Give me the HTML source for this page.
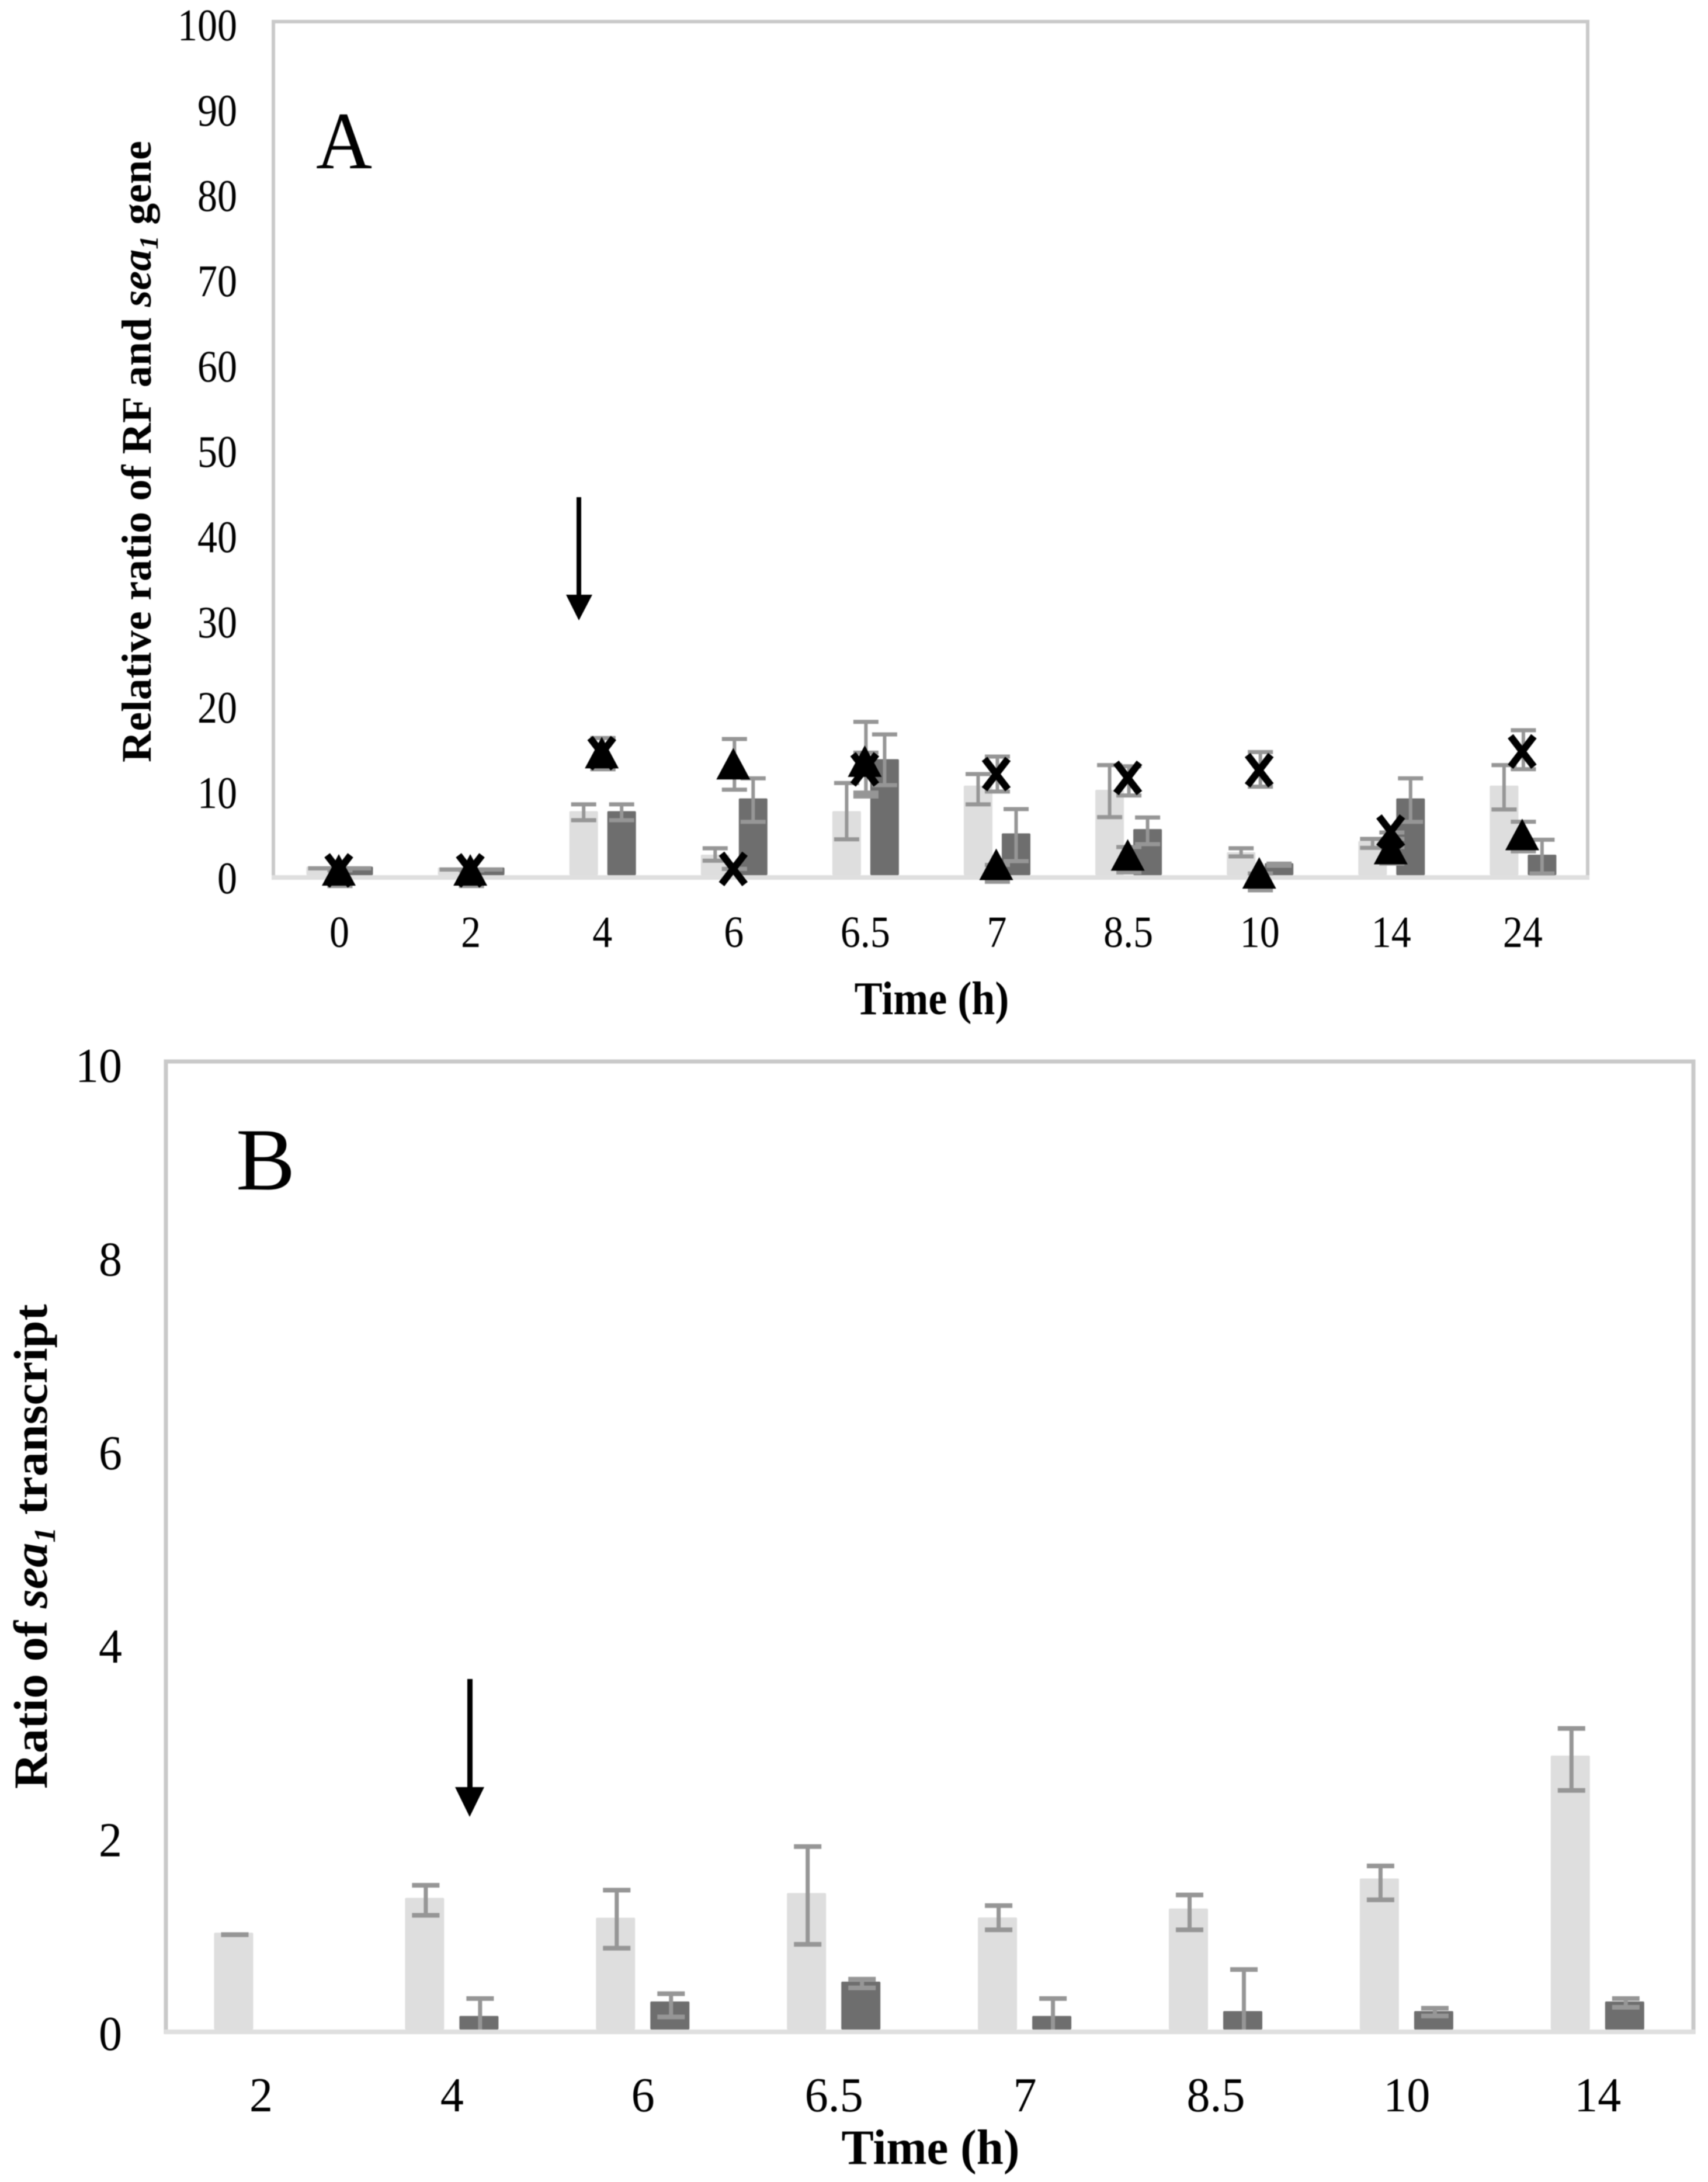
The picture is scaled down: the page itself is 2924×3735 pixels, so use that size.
<!DOCTYPE html>
<html lang="en">
<head>
<meta charset="utf-8">
<title>Relative ratio of RF and sea1 gene and ratio of sea1 transcript</title>
<style>
html,body{margin:0;padding:0;background:#fff;}
svg{display:block;filter:blur(0.8px);}
text{font-family:"Liberation Serif","Times New Roman",serif;fill:#000;}
</style>
</head>
<body>
<svg id="figure" xmlns="http://www.w3.org/2000/svg" width="2924" height="3735" viewBox="0 0 2924 3735">
  <rect x="0" y="0" width="2924" height="3735" fill="#ffffff"/>
  <g id="panelA"></g>
  <g id="panelB"></g>
  <text font-size="133" transform="translate(541,288) scale(1,1.05)">A</text>
  <text font-size="152" transform="translate(404,2036)">B</text>
  <text font-size="72" font-weight="bold" text-anchor="middle" transform="translate(1595,1736) scale(1,1.12)">Time (h)</text>
  <text font-size="83" font-weight="bold" text-anchor="middle" transform="translate(1593,3704) scale(1,1.02)">Time (h)</text>
  <text font-size="72" font-weight="bold" transform="translate(258,1305) rotate(-90) scale(1.027,1)">Relative ratio of RF and <tspan font-style="italic">sea</tspan><tspan font-style="italic" font-size="46" dy="12">1</tspan><tspan dy="-12"> gene</tspan></text>
  <text font-size="82" font-weight="bold" transform="translate(80,3062) rotate(-90) scale(1.028,1)">Ratio of <tspan font-style="italic">sea</tspan><tspan font-style="italic" font-size="52" dy="14">1</tspan><tspan dy="-14"> transcript</tspan></text>
  <g>
    <rect x="987" y="851" width="8" height="170" fill="#000"/>
    <polygon points="969,1018 1014,1018 991,1062" fill="#000"/>
  </g>
  <g>
    <rect x="800" y="2874" width="9" height="190" fill="#000"/>
    <polygon points="779,3059 829,3059 804,3110" fill="#000"/>
  </g>
</svg>
<script>
// Panel A data
const categoriesA = ['0','2','4','6','6.5','7','8.5','10','14','24'];
const yTicksA = [0,10,20,30,40,50,60,70,80,90,100];
const lightA = [1.0,0.9,7.5,2.4,7.5,10.5,10.0,2.7,4.0,10.5];
const lightHiA = [0.8,0.66,8.3,3.15,10.8,11.85,12.9,3.15,4.25,12.9];
const lightLoA = [0.8,0.66,6.44,1.69,4.2,8.3,6.8,2.2,3.2,7.7];
const darkA = [1.0,0.9,7.5,9.0,13.6,4.9,5.4,1.4,9.0,2.4];
const darkHiA = [0.8,0.66,8.3,11.35,16.5,7.74,6.76,1.35,11.35,4.15];
const darkLoA = [0.8,0.66,6.44,6.25,10.55,1.64,3.63,1.1,6.25,0.2];
const crossA = [0.55,0.55,14.3,0.73,12.4,11.85,11.4,12.3,5.1,14.5];
const crossHiA = [0.55,0.55,16.07,0.73,14.36,13.9,12.76,14.43,5.0,16.99];
const crossLoA = [0.55,0.55,12.42,0.73,9.68,9.8,9.34,10.37,4.25,12.42];
const triangleA = [0.55,0.55,14.3,13.0,13.3,1.2,2.3,0.2,3.05,4.7];
const triangleHiA = [0.55,0.55,16.07,15.96,17.97,1.2,3.29,0.2,3.29,6.26];
const triangleLoA = [-1.28,-1.28,12.42,10.02,9.22,-0.78,0.32,-1.78,1.35,2.79];

// Panel B data
const categoriesB = ['2','4','6','6.5','7','8.5','10','14'];
const yTicksB = [0,2,4,6,8,10];
const lightB = [1.0,1.36,1.155,1.41,1.157,1.25,1.56,2.83];
const lightHiB = [0.98,1.49,1.44,1.89,1.28,1.39,1.69,3.11];
const lightLoB = [0.98,1.18,0.84,0.88,1.03,1.03,1.34,2.47];
const darkB = [0,0.14,0.29,0.495,0.14,0.19,0.19,0.29];
const darkHiB = [0,0.32,0.37,0.52,0.32,0.62,0.22,0.32];
const darkLoB = [0,0,0.13,0.43,0,0,0.14,0.23];

const NS = 'http://www.w3.org/2000/svg';
const LIGHT = '#dedede', DARK = '#6e6e6e', ERR = '#969696', FRAME = '#c9c9c9', BASE = '#dfdfdf';

const xA = i => 582 + 225.1 * i;
const yA = v => 1498 - 14.6 * v;
const xB = i => 447 + 326.9 * i;
const yB = v => 3474 - 165.7 * v;

function node(tag, parent) {
  const el = document.createElementNS(NS, tag);
  parent.appendChild(el);
  return el;
}
function setAll(el, props) {
  Object.keys(props).forEach(k => el.setAttribute(k, props[k]));
  return el;
}
function drawFrame(parent, x, y, w, h, sw) {
  const frame = setAll(node('rect', parent), {x:x, y:y, width:w, height:h, fill:'none', stroke:FRAME, 'stroke-width':sw});
  
  
  const base = setAll(node('line', parent), {x1:x-3, x2:x+w+3, y1:y+h, y2:y+h, stroke:BASE, 'stroke-width':8});
  
  
}
function drawBar(parent, cx, top, bottom, width, fill) {
  const bar = setAll(node('rect', parent), {x:cx-width/2, y:top, width:width, height:Math.max(0,bottom-top), fill:fill, rx:2});
  
  
}
function drawError(parent, cx, yHi, yLo, capW, capH, stem, showLowerCap) {
  const g = node('g', parent);
  
  
  setAll(node('rect', g), {x:cx-stem/2, y:yHi, width:stem, height:Math.max(0,yLo-yHi), fill:ERR});
  setAll(node('rect', g), {x:cx-capW/2, y:yHi-capH/2, width:capW, height:capH, fill:ERR});
  if (showLowerCap) {
    setAll(node('rect', g), {x:cx-capW/2, y:yLo-capH/2, width:capW, height:capH, fill:ERR});
  }
}
function drawCross(parent, cx, cy) {
  const mark = setAll(node('path', parent), {
    d:'M'+(cx-20)+' '+(cy-26)+'L'+(cx+20)+' '+(cy+26)+'M'+(cx+20)+' '+(cy-26)+'L'+(cx-20)+' '+(cy+26),
    stroke:'#000', 'stroke-width':12, fill:'none'
  });
  
  
}
function drawTriangle(parent, cx, cy) {
  const mark = setAll(node('polygon', parent), {
    points:cx+','+(cy-28)+' '+(cx+29)+','+(cy+26)+' '+(cx-29)+','+(cy+26),
    fill:'#000'
  });
  
  
}
function tickLabel(parent, label, x, y, size, sy, anchor) {
  const t = setAll(node('text', parent), {'font-size':size, 'text-anchor':anchor, transform:'translate('+x+','+y+') scale(1,'+sy+')'});
  t.textContent = label;
  return t;
}

// Panel A
const panelA = document.getElementById('panelA');
drawFrame(panelA, 468, 37, 2250, 1465, 6);
yTicksA.forEach(v => {
  const t = tickLabel(panelA, String(v), 406, yA(v) + 31, 68, 1.14, 'end');
  
  
});
categoriesA.forEach((c, i) => {
  const t = tickLabel(panelA, c, xA(i) - 1, 1621, 68, 1.12, 'middle');
  
  
  drawBar(panelA, xA(i) - 33, yA(lightA[i]), yA(0), 49, LIGHT);
  drawBar(panelA, xA(i) + 32, yA(darkA[i]), yA(0), 49, DARK);
});
categoriesA.forEach((c, i) => {
  drawError(panelA, xA(i) - 33, yA(lightHiA[i]), yA(lightLoA[i]), 43, 7, 6, true);
  drawError(panelA, xA(i) + 32, yA(darkHiA[i]), yA(darkLoA[i]), 43, 7, 6, true);
  drawError(panelA, xA(i), yA(crossHiA[i]), yA(crossLoA[i]), 43, 7, 6, true);
  drawError(panelA, xA(i), yA(triangleHiA[i]), yA(triangleLoA[i]), 43, 7, 6, true);
});
categoriesA.forEach((c, i) => {
  drawCross(panelA, xA(i) - 2, yA(crossA[i]));
  drawTriangle(panelA, xA(i) - 2, yA(triangleA[i]));
});

// Panel B
const panelB = document.getElementById('panelB');
drawFrame(panelB, 284, 1817, 2615, 1661, 7);
yTicksB.forEach(v => {
  const t = tickLabel(panelB, String(v), 209, yB(v) + 35, 80, 1.05, 'end');
  
  
});
categoriesB.forEach((c, i) => {
  const t = tickLabel(panelB, c, xB(i), 3614, 80, 1.05, 'middle');
  
  
  drawBar(panelB, xB(i) - 47, yB(lightB[i]), yB(0), 67, LIGHT);
  if (darkB[i] > 0) {
    drawBar(panelB, xB(i) + 46, yB(darkB[i]), yB(0), 67, DARK);
  }
});
categoriesB.forEach((c, i) => {
  drawError(panelB, xB(i) - 45, yB(lightHiB[i]), yB(lightLoB[i]), 47, 8, 7, true);
  if (darkB[i] > 0) {
    drawError(panelB, xB(i) + 48, yB(darkHiB[i]), yB(darkLoB[i]), 47, 8, 7, darkLoB[i] > 0);
  }
});
</script>
</body>
</html>
